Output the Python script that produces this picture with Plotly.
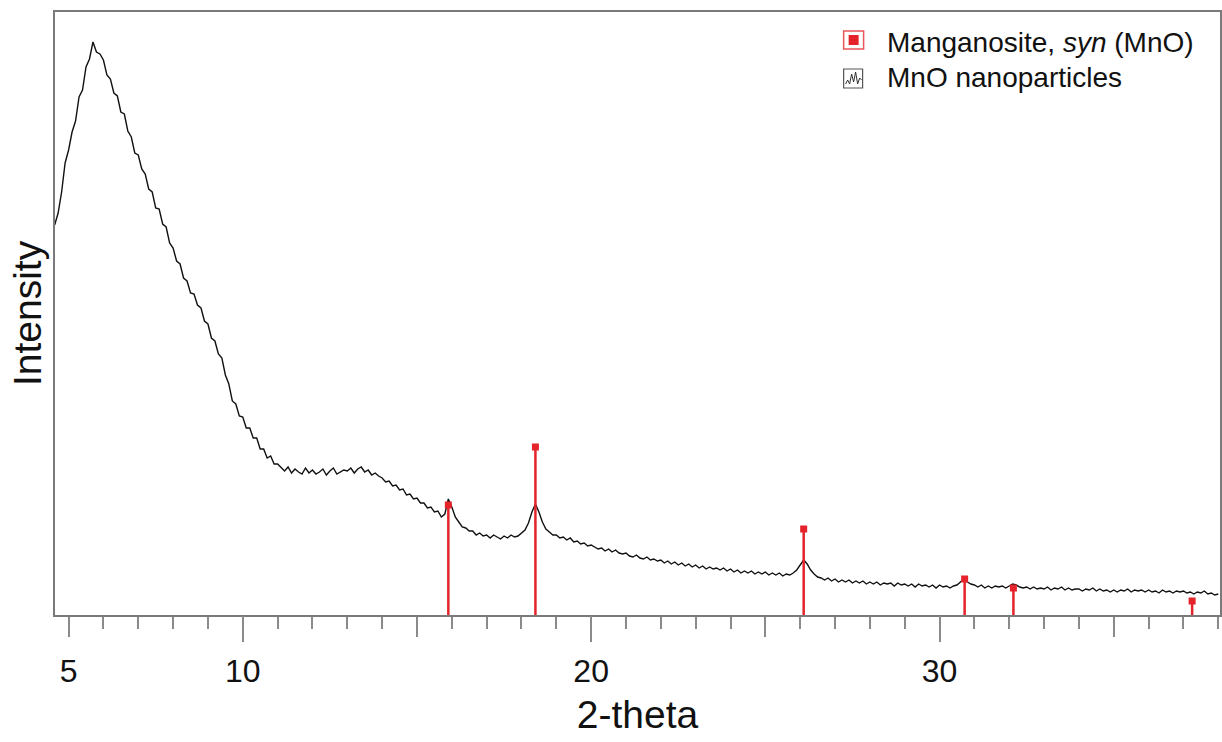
import numpy as np
import plotly.graph_objects as go

# ---- data -------------------------------------------------------------
scan_start = 4.6      # 2-theta of first point
scan_step = 0.1       # 2-theta step of the scan

intensity = [
    390, 402, 423, 452,
    465, 483, 494, 518, 525, 548, 556, 573, 563, 561,
    555, 540, 536, 522, 519, 503, 501, 484, 478, 462,
    460, 446, 441, 426, 423, 407, 406, 391, 388, 372,
    367, 354, 351, 337, 334, 322, 321, 310, 307, 294,
    291, 277, 274, 261, 257, 240, 231, 214, 211, 199,
    198, 187, 187, 177, 177, 166, 166, 157, 159, 151,
    151, 147, 144, 148, 142, 146, 143, 141, 147, 142,
    145, 141, 143, 146, 140, 144, 147, 141, 143, 145,
    144, 147, 142, 146, 148, 143, 145, 140, 142, 139,
    137, 133, 134, 129, 130, 125, 126, 120, 121, 116,
    117, 112, 112, 107, 108, 103, 104, 98, 101, 116,
    108, 98, 93, 88, 87, 84, 84, 80, 82, 79,
    80, 77, 80, 78, 76, 79, 77, 80, 78, 79,
    82, 85, 92, 103, 111, 103, 93, 86, 83, 80,
    80, 77, 78, 75, 77, 73, 74, 71, 72, 69,
    70, 68, 66, 67, 64, 66, 63, 65, 62, 61,
    62, 59, 58, 60, 57, 56, 58, 55, 56, 54,
    55, 52, 54, 51, 53, 50, 52, 49, 51, 48,
    50, 47, 49, 46, 48, 46, 47, 45, 47, 44,
    46, 43, 45, 42, 44, 42, 44, 41, 43, 41,
    43, 40, 42, 40, 42, 39, 41, 40, 42, 45,
    50, 55, 51, 45, 41, 38, 37, 35, 37, 34,
    36, 33, 35, 33, 35, 32, 34, 32, 34, 31,
    33, 31, 33, 30, 32, 31, 32, 29, 32, 30,
    31, 29, 31, 28, 31, 29, 30, 28, 30, 27,
    30, 28, 29, 27, 29, 30, 33, 36, 33, 31,
    30, 28, 30, 27, 29, 27, 29, 28, 29, 27,
    29, 31, 30, 28, 27, 28, 26, 28, 26, 27,
    26, 28, 25, 27, 26, 28, 25, 27, 25, 26,
    26, 24, 26, 25, 27, 24, 26, 24, 25, 23,
    25, 23, 25, 24, 26, 23, 25, 24, 25, 23,
    25, 23, 24, 22, 25, 23, 24, 22, 24, 23,
    24, 22, 23, 21, 23, 22, 24, 21, 22, 20,
    21,
]

ref_2theta = [15.90, 18.40, 26.10, 30.72, 32.12, 37.25]
ref_intensity = [110, 168, 86, 36, 27, 14]

tick_vals = [5, 10, 15, 20, 25, 30, 35]
tick_text = ["5", "10", "", "20", "", "30", ""]
long_tick_vals = [10, 20, 30]

series_names = ["Manganosite, <i>syn</i> (MnO)", "MnO nanoparticles"]

# ---- figure -----------------------------------------------------------
two_theta = np.round(scan_start + scan_step * np.arange(len(intensity)), 2)

W, H = 1222, 742
L, R, T, B = 55, 0, 12, 127
pw, ph = W - L - R, H - T - B
xr = [4.61, 38.05]
yr = [0, 603]
RED = "#E4232A"
FONT = "Liberation Sans, Arial, sans-serif"

def px(x):
    return (x - L) / pw

def py(y):
    return (H - B - y) / ph

fig = go.Figure()
fig.add_trace(go.Scatter(x=two_theta, y=intensity, mode="lines",
                         line=dict(color="#111111", width=1.4),
                         name="MnO nanoparticles", showlegend=False))

sx, sy = [], []
for t, v in zip(ref_2theta, ref_intensity):
    sx += [t, t, None]
    sy += [0, v, None]
fig.add_trace(go.Scatter(x=sx, y=sy, mode="lines", xaxis="x2",
                         line=dict(color=RED, width=2.5), showlegend=False))
fig.add_trace(go.Scatter(x=ref_2theta, y=ref_intensity, mode="markers", xaxis="x2",
                         marker=dict(symbol="square", size=7, color=RED),
                         showlegend=False))

axis_col = "#7a7a7a"
fig.update_layout(
    width=W, height=H,
    margin=dict(l=L, r=R, t=T, b=B),
    paper_bgcolor="white", plot_bgcolor="white",
    font=dict(family=FONT, color="#111111"),
    xaxis=dict(range=xr, showgrid=False, zeroline=False,
               showline=True, linecolor=axis_col, linewidth=1.5, mirror=True,
               tickmode="array", tickvals=tick_vals, ticktext=tick_text,
               ticks="outside", ticklen=20, tickwidth=1.5, tickcolor="#8a8a8a",
               ticklabelstandoff=7,
               tickfont=dict(size=32, family=FONT, color="#111111"),
               minor=dict(tickmode="linear", tick0=0, dtick=1, ticks="outside",
                          ticklen=12, tickwidth=1.5, tickcolor="#8a8a8a"),
               title=dict(text="2-theta", font=dict(size=39, family=FONT), standoff=13)),
    xaxis2=dict(range=xr, overlaying="x", anchor="y", side="bottom",
                showgrid=False, zeroline=False, showline=False,
                tickmode="array", tickvals=long_tick_vals, ticks="outside",
                ticklen=26, tickwidth=1.5, tickcolor="#8a8a8a",
                showticklabels=False),
    yaxis=dict(range=yr, showgrid=False, zeroline=False, showticklabels=False,
               showline=True, linecolor=axis_col, linewidth=1.5, mirror=True,
               ticks="",
               title=dict(text="Intensity", font=dict(size=39, family=FONT), standoff=0)),
)

# legend drawn as layout decorations
fig.add_shape(type="rect", xref="paper", yref="paper",
              x0=px(845), x1=px(865), y0=py(49), y1=py(31),
              line=dict(color="#E8555A", width=1.5), fillcolor="white")
fig.add_shape(type="rect", xref="paper", yref="paper",
              x0=px(850), x1=px(860), y0=py(45), y1=py(35),
              line=dict(width=0), fillcolor=RED)
fig.add_shape(type="rect", xref="paper", yref="paper",
              x0=px(845), x1=px(864), y0=py(88), y1=py(69),
              line=dict(color="#555555", width=1.2), fillcolor="white")
zig = [(847, 84), (849, 80), (851, 84), (853, 74), (855, 82), (857, 72),
       (859, 84), (861, 78), (863, 80)]
path = "M " + " L ".join(f"{px(a):.5f},{py(b):.5f}" for a, b in zig)
fig.add_shape(type="path", xref="paper", yref="paper", path=path,
              line=dict(color="#333333", width=1))
for name, yy in zip(series_names, [43, 78]):
    fig.add_annotation(text=name, xref="paper", yref="paper",
                       x=px(886), y=py(yy), xanchor="left", yanchor="middle",
                       showarrow=False, font=dict(size=28, family=FONT, color="#111111"))

fig.write_html("out.html")
